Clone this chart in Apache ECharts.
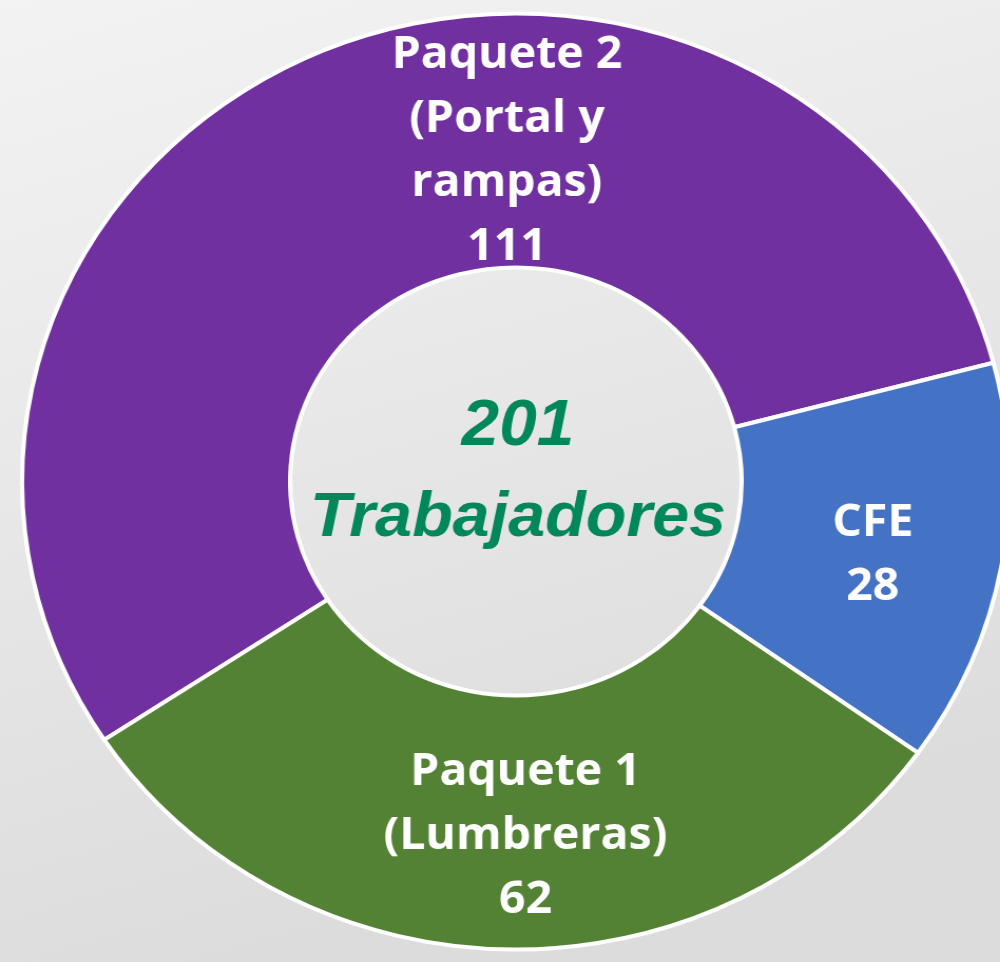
<!DOCTYPE html>
<html>
<head>
<meta charset="utf-8">
<script src="https://cdn.jsdelivr.net/npm/echarts@6/dist/echarts.min.js"></script>
<style>
  html, body { margin: 0; padding: 0; overflow: hidden; }
  /* the source picture is stretched a little wider than tall */
  #chart { width: 948px; height: 962px; transform: scaleX(1.0549); transform-origin: 0 0; }
</style>
</head>
<body>
<div id="chart"></div>
<script>
const names = ['Paquete 2\n(Portal y\nrampas)', 'CFE', 'Paquete 1\n(Lumbreras)']
const values = [111, 28, 62]
const colors = ['#7030a0', '#4472c4', '#548235']

const total = values.reduce((a, b) => a + b, 0)

let myChart = echarts.init(document.getElementById('chart'))

const centerFont = {
    fontFamily: '"Liberation Sans", Arial, sans-serif',
    fontWeight: 'bold',
    fontStyle: 'italic',
    lineHeight: 91,
    color: '#00875a'
}

const option = {
    backgroundColor: {
        type: 'linear', x: 0, y: 0, x2: 0.3, y2: 1,
        colorStops: [
            { offset: 0, color: '#f3f3f3' },
            { offset: 1, color: '#dcdcdc' }
        ]
    },
    title: {
        text: '{a|' + total + '}\n{b|Trabajadores}',
        left: 491,
        top: 382,
        textAlign: 'center',
        padding: 0,
        textStyle: {
            rich: {
                a: Object.assign({ fontSize: 64 }, centerFont),
                b: Object.assign({ fontSize: 63 }, centerFont)
            }
        }
    },
    series: [
        {
            type: 'pie',
            center: [489, 481.5],
            radius: [214, 468],
            startAngle: 213.5,
            clockwise: true,
            animation: false,
            silent: true,
            itemStyle: {
                borderColor: '#ffffff',
                borderWidth: 4
            },
            label: {
                show: true,
                position: 'inside',
                formatter: p => p.name + '\n' + p.value,
                color: '#ffffff',
                fontFamily: 'Open Sans',
                fontWeight: 'bold',
                fontSize: 44,
                lineHeight: 64
            },
            // Paquete 2 sits at the top of its slice, not at its middle angle
            labelLayout: p => {
                if (p.dataIndex === 0) return { dx: 132, dy: -16 }
                if (p.dataIndex === 1) return { dx: 0, dy: 12 }
                return { dx: 15, dy: 11 }
            },
            data: names.map((n, i) => ({
                name: n,
                value: values[i],
                itemStyle: { color: colors[i] }
            }))
        }
    ]
}

myChart.setOption(option)
</script>
</body>
</html>
